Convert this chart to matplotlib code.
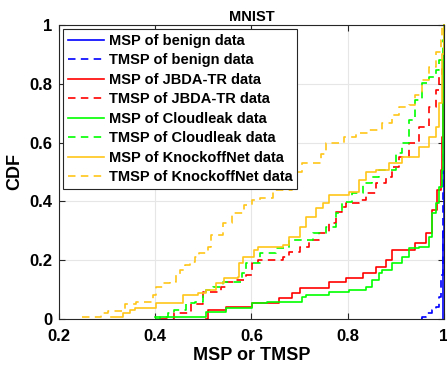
#/usr/bin/env python3
import matplotlib.pyplot as plt
import numpy as np

plt.rcParams['font.family'] = ['Liberation Sans', 'DejaVu Sans']
plt.rcParams['font.weight'] = 'bold'

# puntos de salto de cada CDF (x donde salta, valor nuevo)
msp_benign_x = [0.9985, 0.999, 0.9995, 1.0]
msp_benign_y = [0.0, 0.3, 0.8, 1.0]

tmsp_benign_x = [0.952, 0.955, 0.962, 0.975, 0.983, 0.99, 0.995, 0.999, 1.0]
tmsp_benign_y = [0.0, 0.008, 0.02, 0.03, 0.042, 0.076, 0.15, 0.6, 1.0]

msp_jbda_x = [0.506, 0.51, 0.547, 0.602, 0.658, 0.685, 0.70, 0.762, 0.796, 0.831,
              0.858, 0.879, 0.893, 0.941, 0.962, 0.975, 0.985, 0.993, 0.997, 0.999, 1.0]
msp_jbda_y = [0.0, 0.03, 0.042, 0.054, 0.071, 0.088, 0.105, 0.125, 0.138, 0.156,
              0.178, 0.2, 0.235, 0.258, 0.292, 0.371, 0.44, 0.507, 0.62, 0.85, 1.0]

tmsp_jbda_x = [0.41, 0.44, 0.475, 0.499, 0.537, 0.547, 0.568, 0.589, 0.602, 0.613,
               0.665, 0.679, 0.70, 0.72, 0.741, 0.762, 0.776, 0.789, 0.796, 0.824,
               0.838, 0.858, 0.879, 0.893, 0.907, 0.928, 0.948, 0.969, 0.983, 0.99,
               0.997, 1.0]
tmsp_jbda_y = [0.0, 0.02, 0.05, 0.093, 0.11, 0.127, 0.133, 0.15, 0.19, 0.2,
               0.212, 0.229, 0.246, 0.269, 0.292, 0.326, 0.365, 0.382, 0.394, 0.405,
               0.428, 0.462, 0.484, 0.518, 0.552, 0.598, 0.654, 0.722, 0.779, 0.824,
               0.85, 1.0]

msp_cloud_x = [0.399, 0.506, 0.547, 0.602, 0.633, 0.706, 0.713, 0.762, 0.803, 0.838,
               0.851, 0.865, 0.872, 0.893, 0.913, 0.928, 0.948, 0.969, 0.975, 0.983,
               0.99, 0.996, 0.998, 1.0]
msp_cloud_y = [0.008, 0.025, 0.036, 0.054, 0.059, 0.075, 0.082, 0.093, 0.099, 0.11,
               0.133, 0.156, 0.167, 0.19, 0.212, 0.24, 0.246, 0.28, 0.36, 0.394,
               0.45, 0.507, 0.88, 1.0]

tmsp_cloud_x = [0.40, 0.409, 0.427, 0.44, 0.465, 0.482, 0.499, 0.506, 0.52, 0.54,
                0.581, 0.589, 0.617, 0.651, 0.679, 0.727, 0.755, 0.775, 0.789, 0.81,
                0.831, 0.851, 0.865, 0.90, 0.913, 0.928, 0.941, 0.955, 0.969, 0.983,
                0.99, 0.999, 1.0]
tmsp_cloud_y = [0.0, 0.008, 0.019, 0.03, 0.053, 0.059, 0.093, 0.099, 0.11, 0.127,
                0.156, 0.19, 0.224, 0.24, 0.269, 0.292, 0.314, 0.36, 0.399, 0.428,
                0.462, 0.484, 0.507, 0.564, 0.598, 0.677, 0.745, 0.802, 0.824, 0.847,
                0.88, 0.95, 1.0]

msp_knock_x = [0.309, 0.333, 0.347, 0.357, 0.402, 0.458, 0.489, 0.506, 0.527, 0.544,
               0.572, 0.575, 0.582, 0.606, 0.613, 0.665, 0.679, 0.70, 0.713, 0.734,
               0.748, 0.762, 0.803, 0.824, 0.838, 0.858, 0.886, 0.913, 0.948, 0.969,
               0.983, 0.99, 0.997, 1.0]
msp_knock_y = [0.008, 0.019, 0.03, 0.038, 0.054, 0.082, 0.087, 0.099, 0.121, 0.138,
               0.144, 0.189, 0.212, 0.235, 0.246, 0.252, 0.28, 0.314, 0.348, 0.377,
               0.394, 0.422, 0.433, 0.473, 0.501, 0.507, 0.53, 0.552, 0.586, 0.62,
               0.654, 0.735, 0.9, 1.0]

tmsp_knock_x = [0.247, 0.288, 0.302, 0.337, 0.361, 0.395, 0.402, 0.416, 0.43, 0.444,
                0.451, 0.461, 0.472, 0.482, 0.492, 0.509, 0.516, 0.54, 0.56, 0.585,
                0.602, 0.617, 0.644, 0.685, 0.706, 0.745, 0.755, 0.793, 0.817, 0.845,
                0.872, 0.893, 0.907, 0.928, 0.941, 0.955, 0.969, 0.983, 0.993, 0.996,
                1.0]
tmsp_knock_y = [0.008, 0.019, 0.028, 0.05, 0.059, 0.082, 0.11, 0.121, 0.127, 0.15,
                0.167, 0.184, 0.195, 0.212, 0.223, 0.246, 0.286, 0.326, 0.36, 0.388,
                0.405, 0.41, 0.44, 0.50, 0.53, 0.56, 0.598, 0.62, 0.632, 0.643,
                0.667, 0.694, 0.722, 0.728, 0.762, 0.813, 0.858, 0.909, 0.949, 0.994,
                1.0]

series = [
    (msp_benign_x, msp_benign_y, 'MSP of benign data'),
    (tmsp_benign_x, tmsp_benign_y, 'TMSP of benign data'),
    (msp_jbda_x, msp_jbda_y, 'MSP of JBDA-TR data'),
    (tmsp_jbda_x, tmsp_jbda_y, 'TMSP of JBDA-TR data'),
    (msp_cloud_x, msp_cloud_y, 'MSP of Cloudleak data'),
    (tmsp_cloud_x, tmsp_cloud_y, 'TMSP of Cloudleak data'),
    (msp_knock_x, msp_knock_y, 'MSP of KnockoffNet data'),
    (tmsp_knock_x, tmsp_knock_y, 'TMSP of KnockoffNet data'),
]
colores = ['#0000FF', '#0000FF', '#FF0000', '#FF0000',
           '#00FF00', '#00FF00', '#FFC61A', '#FFC61A']


def grafico():
    fig = plt.figure(figsize=(4.47, 3.71), dpi=100)
    ax = fig.add_axes([0.132, 0.140, 0.861, 0.793])

    for i, (x, y, nombre) in enumerate(series):
        estilo = '-' if i % 2 == 0 else (0, (4.5, 3.2))
        ax.plot(x, y, drawstyle='steps-post', color=colores[i], linestyle=estilo,
                lw=1.2, label=nombre, clip_on=False)

    ax.set_xlim(0.2, 1)
    ax.set_ylim(0, 1)
    ax.set_xticks([0.2, 0.4, 0.6, 0.8, 1.0])
    ax.set_xticklabels(['0.2', '0.4', '0.6', '0.8', '1'])
    ax.set_yticks([0, 0.2, 0.4, 0.6, 0.8, 1.0])
    ax.set_yticklabels(['0', '0.2', '0.4', '0.6', '0.8', '1'])
    ax.tick_params(direction='in', top=True, right=True, labelsize=12, length=4,
                   color='#262626')
    ax.tick_params(axis='x', pad=7)
    ax.tick_params(axis='y', pad=5)
    ax.grid(True, color='#E6E6E6', lw=0.8)
    ax.set_axisbelow(True)
    for s in ax.spines.values():
        s.set_color('#262626')
        s.set_linewidth(0.8)

    ax.set_xlabel('MSP or TMSP', fontsize=13, fontweight='bold', labelpad=2)
    ax.set_ylabel('CDF', fontsize=13, fontweight='bold', labelpad=4)
    ax.set_title('MNIST', fontsize=10.5, fontweight='bold', pad=3)

    leg = ax.legend(loc='upper left', fontsize=10.5, frameon=True, fancybox=False,
                    handlelength=2.5, handletextpad=0.35, labelspacing=0.38,
                    borderpad=0.3, borderaxespad=0.3)
    leg.get_frame().set_edgecolor('#262626')
    leg.get_frame().set_linewidth(0.8)
    leg.get_frame().set_alpha(1)

    fig.savefig('out.png', dpi=100)


if __name__ == "__main__":
    grafico()
